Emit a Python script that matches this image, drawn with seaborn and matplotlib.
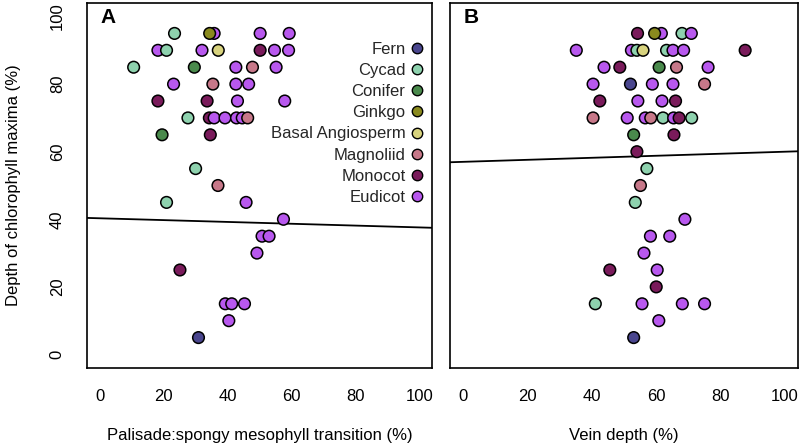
import matplotlib
matplotlib.use("Agg")
import matplotlib.pyplot as plt
from matplotlib.lines import Line2D
import seaborn as sns
import pandas as pd

# ---------------- data ----------------
groups = ["Fern", "Cycad", "Conifer", "Ginkgo", "Basal Angiosperm",
          "Magnoliid", "Monocot", "Eudicot"]
colors = ["#4a468e", "#8ed2ae", "#4a8a4c", "#8a8a1e", "#d8d37e",
          "#c77889", "#7a1b5b", "#b858ee"]

# Panel A: palisade:spongy mesophyll transition (%) vs depth of chl maxima (%)
a_group = ["Cycad", "Eudicot", "Ginkgo", "Eudicot", "Eudicot",
           "Eudicot", "Cycad", "Eudicot", "Basal Angiosperm", "Monocot", "Eudicot", "Eudicot",
           "Cycad", "Conifer", "Eudicot", "Magnoliid", "Eudicot",
           "Eudicot", "Magnoliid", "Eudicot", "Eudicot",
           "Monocot", "Monocot", "Eudicot", "Eudicot",
           "Cycad", "Monocot", "Eudicot", "Eudicot", "Eudicot", "Eudicot", "Magnoliid",
           "Conifer", "Monocot",
           "Cycad", "Magnoliid", "Cycad", "Eudicot", "Eudicot",
           "Eudicot", "Eudicot", "Eudicot", "Monocot",
           "Eudicot", "Eudicot", "Eudicot", "Eudicot", "Fern"]
a_x = [23.4, 35.8, 34.4, 50.2, 59.3,
       18.2, 20.9, 32.0, 37.1, 50.2, 54.7, 59.1,
       10.6, 29.6, 42.6, 47.8, 55.2,
       23.1, 35.4, 42.6, 46.6,
       18.2, 33.6, 43.1, 57.9,
       27.6, 34.3, 35.8, 39.2, 42.8, 44.6, 46.3,
       19.5, 34.6,
       30.0, 37.0, 20.9, 45.8, 57.5,
       50.8, 53.0, 49.2, 25.1,
       39.3, 41.3, 45.3, 40.4, 30.9]
a_y = [95, 95, 95, 95, 95,
       90, 90, 90, 90, 90, 90, 90,
       85, 85, 85, 85, 85,
       80, 80, 80, 80,
       75, 75, 75, 75,
       70, 70, 70, 70, 70, 70, 70,
       65, 65,
       55, 50, 45, 45, 40,
       35, 35, 30, 25,
       15, 15, 15, 10, 5]

# Panel B: vein depth (%) vs depth of chl maxima (%)
b_group = ["Monocot", "Eudicot", "Ginkgo", "Cycad", "Eudicot",
           "Eudicot", "Eudicot", "Cycad", "Basal Angiosperm", "Cycad", "Eudicot", "Eudicot", "Monocot",
           "Eudicot", "Monocot", "Conifer", "Magnoliid", "Eudicot",
           "Eudicot", "Fern", "Eudicot", "Eudicot", "Magnoliid",
           "Monocot", "Eudicot", "Eudicot", "Monocot",
           "Magnoliid", "Eudicot", "Eudicot", "Magnoliid", "Cycad", "Eudicot", "Monocot", "Cycad",
           "Conifer", "Monocot",
           "Monocot", "Cycad", "Magnoliid", "Cycad", "Eudicot",
           "Eudicot", "Eudicot", "Eudicot", "Monocot", "Eudicot", "Monocot",
           "Cycad", "Eudicot", "Eudicot", "Eudicot", "Eudicot", "Fern"]
b_x = [54.2, 61.6, 59.5, 68.0, 70.9,
       35.2, 52.3, 54.0, 55.9, 63.2, 65.2, 68.5, 87.6,
       43.8, 48.7, 60.9, 66.3, 76.1,
       40.4, 52.0, 58.8, 65.2, 75.0,
       42.5, 54.3, 61.8, 66.0,
       40.4, 51.0, 56.6, 58.3, 62.1, 65.4, 67.1, 71.0,
       53.0, 65.5,
       54.0, 57.1, 55.1, 53.5, 68.9,
       58.2, 64.2, 56.2, 45.6, 60.3, 60.0,
       41.1, 55.6, 68.1, 75.0, 60.8, 53.0]
b_y = [95, 95, 95, 95, 95,
       90, 90, 90, 90, 90, 90, 90, 90,
       85, 85, 85, 85, 85,
       80, 80, 80, 80, 80,
       75, 75, 75, 75,
       70, 70, 70, 70, 70, 70, 70, 70,
       65, 65,
       60, 55, 50, 45, 40,
       35, 35, 30, 25, 25, 20,
       15, 15, 15, 15, 10, 5]

# fitted regression lines (intercept, slope)
fit_a = [40.3, -0.027]
fit_b = [57.0, 0.030]

x_ticks = [0, 20, 40, 60, 80, 100]
y_ticks = [0, 20, 40, 60, 80, 100]
panel_labels = ["A", "B"]
x_labels = ["Palisade:spongy mesophyll transition (%)", "Vein depth (%)"]
y_label = "Depth of chlorophyll maxima (%)"

# ---------------- plot ----------------
sns.set_theme(style="white")
plt.rcParams["font.family"] = ["Liberation Sans", "DejaVu Sans"]
plt.rcParams["font.size"] = 12

palette = dict(zip(groups, colors))
df_a = pd.DataFrame({"group": a_group, "x": a_x, "y": a_y})
df_b = pd.DataFrame({"group": b_group, "x": b_x, "y": b_y})

fig = plt.figure(figsize=(8, 4.45), dpi=100)
W, H = 800, 445
axA = fig.add_axes([87 / W, 1 - 368 / H, 345 / W, 365 / H])
axB = fig.add_axes([450 / W, 1 - 368 / H, 348 / W, 365 / H])

for ax, df, fit, lab, xl in [(axA, df_a, fit_a, panel_labels[0], x_labels[0]),
                             (axB, df_b, fit_b, panel_labels[1], x_labels[1])]:
    ax.axline((0, fit[0]), slope=fit[1], color="black", lw=1.3, zorder=1)
    sns.scatterplot(data=df, x="x", y="y", hue="group", palette=palette,
                    s=70, edgecolor="black", linewidth=1.1, legend=False,
                    ax=ax, zorder=3, alpha=1)
    ax.set_xlim(-4, 104)
    ax.set_ylim(-4, 104)
    ax.set_xticks(x_ticks)
    ax.set_yticks(y_ticks)
    ax.tick_params(axis="both", direction="in", length=6, width=1.0,
                   color="black", labelsize=12, labelcolor="black")
    ax.tick_params(axis="x", pad=15)
    ax.tick_params(axis="y", pad=16)
    for sp in ax.spines.values():
        sp.set_visible(True)
        sp.set_color("black")
        sp.set_linewidth(1.2)
    ax.set_xlabel(xl, fontsize=12, color="black")
    ax.xaxis.set_label_coords(0.5, -0.165)
    ax.set_ylabel("")
    ax.text(0.04, 0.985, lab, transform=ax.transAxes, fontsize=15,
            fontweight="bold", va="top", ha="left", color="black")

plt.setp(axA.get_yticklabels(), rotation=90, va="center")
axB.tick_params(axis="y", labelleft=False)
axA.set_ylabel(y_label, fontsize=12, color="black")
axA.yaxis.set_label_coords(-0.19, 0.5)

handles = [Line2D([0], [0], marker="o", linestyle="", markersize=7.5,
                  markerfacecolor=c, markeredgecolor="black", markeredgewidth=1.0)
           for c in colors]
axA.legend(handles, groups, loc="upper right", bbox_to_anchor=(0.976, 0.894),
           frameon=False, markerfirst=False, fontsize=12, handlelength=0.8,
           handletextpad=0.3, labelspacing=0.37, borderpad=0, borderaxespad=0)

fig.savefig("out.png", dpi=100)
